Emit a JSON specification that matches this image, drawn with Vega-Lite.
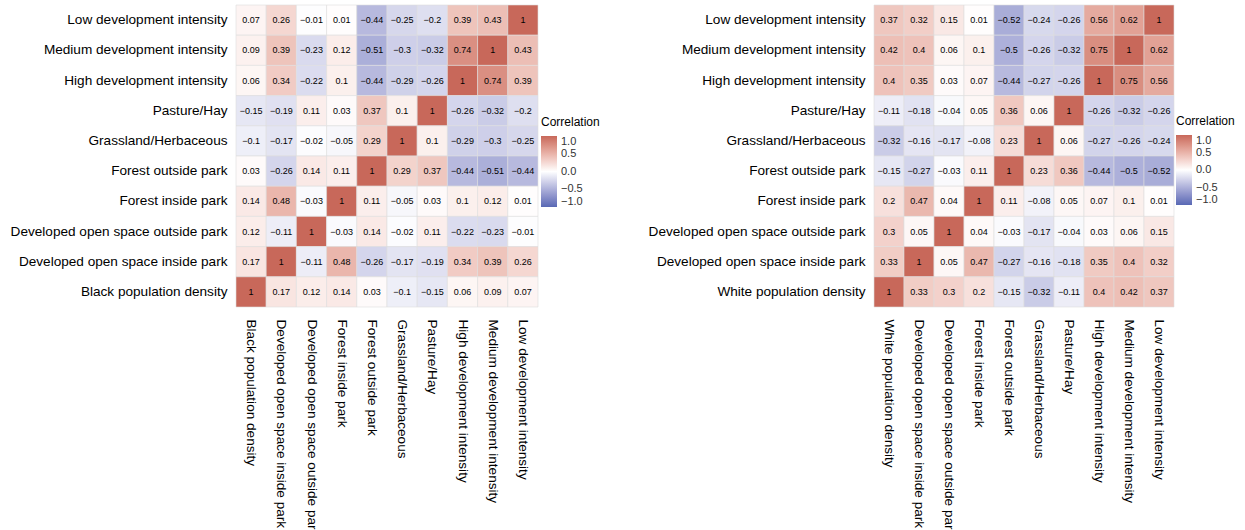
{
  "$schema": "https://vega.github.io/schema/vega-lite/v6.json",
  "padding": {"left": 10, "top": 4, "right": 5, "bottom": 5},
  "spacing": 48,
  "config": {
    "font": "Liberation Sans",
    "view": {"stroke": null},
    "axis": {"domain": false, "ticks": false, "grid": false, "labelFontSize": 13.6, "labelColor": "#000000", "labelFont": "Liberation Sans", "labelLimit": 500},
    "axisY": {"labelPadding": 9},
    "axisX": {"labelAngle": 90, "labelPadding": 12, "labelAlign": "left", "labelBaseline": "middle"},
    "legend": {"titleFontSize": 12, "titleFontWeight": "normal", "titleColor": "#000000", "labelFontSize": 11, "labelColor": "#333333", "titleFont": "Liberation Sans", "labelFont": "Liberation Sans"}
  },
  "resolve": {"scale": {"color": "independent", "x": "independent", "y": "independent"}, "legend": {"color": "independent"}},
  "datasets": {
    "black": [
      {"y": "Low development intensity", "x": "Black population density", "r": 0.07},
      {"y": "Low development intensity", "x": "Developed open space inside park", "r": 0.26},
      {"y": "Low development intensity", "x": "Developed open space outside park", "r": -0.01},
      {"y": "Low development intensity", "x": "Forest inside park", "r": 0.01},
      {"y": "Low development intensity", "x": "Forest outside park", "r": -0.44},
      {"y": "Low development intensity", "x": "Grassland/Herbaceous", "r": -0.25},
      {"y": "Low development intensity", "x": "Pasture/Hay", "r": -0.2},
      {"y": "Low development intensity", "x": "High development intensity", "r": 0.39},
      {"y": "Low development intensity", "x": "Medium development intensity", "r": 0.43},
      {"y": "Low development intensity", "x": "Low development intensity", "r": 1},
      {"y": "Medium development intensity", "x": "Black population density", "r": 0.09},
      {"y": "Medium development intensity", "x": "Developed open space inside park", "r": 0.39},
      {"y": "Medium development intensity", "x": "Developed open space outside park", "r": -0.23},
      {"y": "Medium development intensity", "x": "Forest inside park", "r": 0.12},
      {"y": "Medium development intensity", "x": "Forest outside park", "r": -0.51},
      {"y": "Medium development intensity", "x": "Grassland/Herbaceous", "r": -0.3},
      {"y": "Medium development intensity", "x": "Pasture/Hay", "r": -0.32},
      {"y": "Medium development intensity", "x": "High development intensity", "r": 0.74},
      {"y": "Medium development intensity", "x": "Medium development intensity", "r": 1},
      {"y": "Medium development intensity", "x": "Low development intensity", "r": 0.43},
      {"y": "High development intensity", "x": "Black population density", "r": 0.06},
      {"y": "High development intensity", "x": "Developed open space inside park", "r": 0.34},
      {"y": "High development intensity", "x": "Developed open space outside park", "r": -0.22},
      {"y": "High development intensity", "x": "Forest inside park", "r": 0.1},
      {"y": "High development intensity", "x": "Forest outside park", "r": -0.44},
      {"y": "High development intensity", "x": "Grassland/Herbaceous", "r": -0.29},
      {"y": "High development intensity", "x": "Pasture/Hay", "r": -0.26},
      {"y": "High development intensity", "x": "High development intensity", "r": 1},
      {"y": "High development intensity", "x": "Medium development intensity", "r": 0.74},
      {"y": "High development intensity", "x": "Low development intensity", "r": 0.39},
      {"y": "Pasture/Hay", "x": "Black population density", "r": -0.15},
      {"y": "Pasture/Hay", "x": "Developed open space inside park", "r": -0.19},
      {"y": "Pasture/Hay", "x": "Developed open space outside park", "r": 0.11},
      {"y": "Pasture/Hay", "x": "Forest inside park", "r": 0.03},
      {"y": "Pasture/Hay", "x": "Forest outside park", "r": 0.37},
      {"y": "Pasture/Hay", "x": "Grassland/Herbaceous", "r": 0.1},
      {"y": "Pasture/Hay", "x": "Pasture/Hay", "r": 1},
      {"y": "Pasture/Hay", "x": "High development intensity", "r": -0.26},
      {"y": "Pasture/Hay", "x": "Medium development intensity", "r": -0.32},
      {"y": "Pasture/Hay", "x": "Low development intensity", "r": -0.2},
      {"y": "Grassland/Herbaceous", "x": "Black population density", "r": -0.1},
      {"y": "Grassland/Herbaceous", "x": "Developed open space inside park", "r": -0.17},
      {"y": "Grassland/Herbaceous", "x": "Developed open space outside park", "r": -0.02},
      {"y": "Grassland/Herbaceous", "x": "Forest inside park", "r": -0.05},
      {"y": "Grassland/Herbaceous", "x": "Forest outside park", "r": 0.29},
      {"y": "Grassland/Herbaceous", "x": "Grassland/Herbaceous", "r": 1},
      {"y": "Grassland/Herbaceous", "x": "Pasture/Hay", "r": 0.1},
      {"y": "Grassland/Herbaceous", "x": "High development intensity", "r": -0.29},
      {"y": "Grassland/Herbaceous", "x": "Medium development intensity", "r": -0.3},
      {"y": "Grassland/Herbaceous", "x": "Low development intensity", "r": -0.25},
      {"y": "Forest outside park", "x": "Black population density", "r": 0.03},
      {"y": "Forest outside park", "x": "Developed open space inside park", "r": -0.26},
      {"y": "Forest outside park", "x": "Developed open space outside park", "r": 0.14},
      {"y": "Forest outside park", "x": "Forest inside park", "r": 0.11},
      {"y": "Forest outside park", "x": "Forest outside park", "r": 1},
      {"y": "Forest outside park", "x": "Grassland/Herbaceous", "r": 0.29},
      {"y": "Forest outside park", "x": "Pasture/Hay", "r": 0.37},
      {"y": "Forest outside park", "x": "High development intensity", "r": -0.44},
      {"y": "Forest outside park", "x": "Medium development intensity", "r": -0.51},
      {"y": "Forest outside park", "x": "Low development intensity", "r": -0.44},
      {"y": "Forest inside park", "x": "Black population density", "r": 0.14},
      {"y": "Forest inside park", "x": "Developed open space inside park", "r": 0.48},
      {"y": "Forest inside park", "x": "Developed open space outside park", "r": -0.03},
      {"y": "Forest inside park", "x": "Forest inside park", "r": 1},
      {"y": "Forest inside park", "x": "Forest outside park", "r": 0.11},
      {"y": "Forest inside park", "x": "Grassland/Herbaceous", "r": -0.05},
      {"y": "Forest inside park", "x": "Pasture/Hay", "r": 0.03},
      {"y": "Forest inside park", "x": "High development intensity", "r": 0.1},
      {"y": "Forest inside park", "x": "Medium development intensity", "r": 0.12},
      {"y": "Forest inside park", "x": "Low development intensity", "r": 0.01},
      {"y": "Developed open space outside park", "x": "Black population density", "r": 0.12},
      {"y": "Developed open space outside park", "x": "Developed open space inside park", "r": -0.11},
      {"y": "Developed open space outside park", "x": "Developed open space outside park", "r": 1},
      {"y": "Developed open space outside park", "x": "Forest inside park", "r": -0.03},
      {"y": "Developed open space outside park", "x": "Forest outside park", "r": 0.14},
      {"y": "Developed open space outside park", "x": "Grassland/Herbaceous", "r": -0.02},
      {"y": "Developed open space outside park", "x": "Pasture/Hay", "r": 0.11},
      {"y": "Developed open space outside park", "x": "High development intensity", "r": -0.22},
      {"y": "Developed open space outside park", "x": "Medium development intensity", "r": -0.23},
      {"y": "Developed open space outside park", "x": "Low development intensity", "r": -0.01},
      {"y": "Developed open space inside park", "x": "Black population density", "r": 0.17},
      {"y": "Developed open space inside park", "x": "Developed open space inside park", "r": 1},
      {"y": "Developed open space inside park", "x": "Developed open space outside park", "r": -0.11},
      {"y": "Developed open space inside park", "x": "Forest inside park", "r": 0.48},
      {"y": "Developed open space inside park", "x": "Forest outside park", "r": -0.26},
      {"y": "Developed open space inside park", "x": "Grassland/Herbaceous", "r": -0.17},
      {"y": "Developed open space inside park", "x": "Pasture/Hay", "r": -0.19},
      {"y": "Developed open space inside park", "x": "High development intensity", "r": 0.34},
      {"y": "Developed open space inside park", "x": "Medium development intensity", "r": 0.39},
      {"y": "Developed open space inside park", "x": "Low development intensity", "r": 0.26},
      {"y": "Black population density", "x": "Black population density", "r": 1},
      {"y": "Black population density", "x": "Developed open space inside park", "r": 0.17},
      {"y": "Black population density", "x": "Developed open space outside park", "r": 0.12},
      {"y": "Black population density", "x": "Forest inside park", "r": 0.14},
      {"y": "Black population density", "x": "Forest outside park", "r": 0.03},
      {"y": "Black population density", "x": "Grassland/Herbaceous", "r": -0.1},
      {"y": "Black population density", "x": "Pasture/Hay", "r": -0.15},
      {"y": "Black population density", "x": "High development intensity", "r": 0.06},
      {"y": "Black population density", "x": "Medium development intensity", "r": 0.09},
      {"y": "Black population density", "x": "Low development intensity", "r": 0.07}
    ],
    "white": [
      {"y": "Low development intensity", "x": "White population density", "r": 0.37},
      {"y": "Low development intensity", "x": "Developed open space inside park", "r": 0.32},
      {"y": "Low development intensity", "x": "Developed open space outside park", "r": 0.15},
      {"y": "Low development intensity", "x": "Forest inside park", "r": 0.01},
      {"y": "Low development intensity", "x": "Forest outside park", "r": -0.52},
      {"y": "Low development intensity", "x": "Grassland/Herbaceous", "r": -0.24},
      {"y": "Low development intensity", "x": "Pasture/Hay", "r": -0.26},
      {"y": "Low development intensity", "x": "High development intensity", "r": 0.56},
      {"y": "Low development intensity", "x": "Medium development intensity", "r": 0.62},
      {"y": "Low development intensity", "x": "Low development intensity", "r": 1},
      {"y": "Medium development intensity", "x": "White population density", "r": 0.42},
      {"y": "Medium development intensity", "x": "Developed open space inside park", "r": 0.4},
      {"y": "Medium development intensity", "x": "Developed open space outside park", "r": 0.06},
      {"y": "Medium development intensity", "x": "Forest inside park", "r": 0.1},
      {"y": "Medium development intensity", "x": "Forest outside park", "r": -0.5},
      {"y": "Medium development intensity", "x": "Grassland/Herbaceous", "r": -0.26},
      {"y": "Medium development intensity", "x": "Pasture/Hay", "r": -0.32},
      {"y": "Medium development intensity", "x": "High development intensity", "r": 0.75},
      {"y": "Medium development intensity", "x": "Medium development intensity", "r": 1},
      {"y": "Medium development intensity", "x": "Low development intensity", "r": 0.62},
      {"y": "High development intensity", "x": "White population density", "r": 0.4},
      {"y": "High development intensity", "x": "Developed open space inside park", "r": 0.35},
      {"y": "High development intensity", "x": "Developed open space outside park", "r": 0.03},
      {"y": "High development intensity", "x": "Forest inside park", "r": 0.07},
      {"y": "High development intensity", "x": "Forest outside park", "r": -0.44},
      {"y": "High development intensity", "x": "Grassland/Herbaceous", "r": -0.27},
      {"y": "High development intensity", "x": "Pasture/Hay", "r": -0.26},
      {"y": "High development intensity", "x": "High development intensity", "r": 1},
      {"y": "High development intensity", "x": "Medium development intensity", "r": 0.75},
      {"y": "High development intensity", "x": "Low development intensity", "r": 0.56},
      {"y": "Pasture/Hay", "x": "White population density", "r": -0.11},
      {"y": "Pasture/Hay", "x": "Developed open space inside park", "r": -0.18},
      {"y": "Pasture/Hay", "x": "Developed open space outside park", "r": -0.04},
      {"y": "Pasture/Hay", "x": "Forest inside park", "r": 0.05},
      {"y": "Pasture/Hay", "x": "Forest outside park", "r": 0.36},
      {"y": "Pasture/Hay", "x": "Grassland/Herbaceous", "r": 0.06},
      {"y": "Pasture/Hay", "x": "Pasture/Hay", "r": 1},
      {"y": "Pasture/Hay", "x": "High development intensity", "r": -0.26},
      {"y": "Pasture/Hay", "x": "Medium development intensity", "r": -0.32},
      {"y": "Pasture/Hay", "x": "Low development intensity", "r": -0.26},
      {"y": "Grassland/Herbaceous", "x": "White population density", "r": -0.32},
      {"y": "Grassland/Herbaceous", "x": "Developed open space inside park", "r": -0.16},
      {"y": "Grassland/Herbaceous", "x": "Developed open space outside park", "r": -0.17},
      {"y": "Grassland/Herbaceous", "x": "Forest inside park", "r": -0.08},
      {"y": "Grassland/Herbaceous", "x": "Forest outside park", "r": 0.23},
      {"y": "Grassland/Herbaceous", "x": "Grassland/Herbaceous", "r": 1},
      {"y": "Grassland/Herbaceous", "x": "Pasture/Hay", "r": 0.06},
      {"y": "Grassland/Herbaceous", "x": "High development intensity", "r": -0.27},
      {"y": "Grassland/Herbaceous", "x": "Medium development intensity", "r": -0.26},
      {"y": "Grassland/Herbaceous", "x": "Low development intensity", "r": -0.24},
      {"y": "Forest outside park", "x": "White population density", "r": -0.15},
      {"y": "Forest outside park", "x": "Developed open space inside park", "r": -0.27},
      {"y": "Forest outside park", "x": "Developed open space outside park", "r": -0.03},
      {"y": "Forest outside park", "x": "Forest inside park", "r": 0.11},
      {"y": "Forest outside park", "x": "Forest outside park", "r": 1},
      {"y": "Forest outside park", "x": "Grassland/Herbaceous", "r": 0.23},
      {"y": "Forest outside park", "x": "Pasture/Hay", "r": 0.36},
      {"y": "Forest outside park", "x": "High development intensity", "r": -0.44},
      {"y": "Forest outside park", "x": "Medium development intensity", "r": -0.5},
      {"y": "Forest outside park", "x": "Low development intensity", "r": -0.52},
      {"y": "Forest inside park", "x": "White population density", "r": 0.2},
      {"y": "Forest inside park", "x": "Developed open space inside park", "r": 0.47},
      {"y": "Forest inside park", "x": "Developed open space outside park", "r": 0.04},
      {"y": "Forest inside park", "x": "Forest inside park", "r": 1},
      {"y": "Forest inside park", "x": "Forest outside park", "r": 0.11},
      {"y": "Forest inside park", "x": "Grassland/Herbaceous", "r": -0.08},
      {"y": "Forest inside park", "x": "Pasture/Hay", "r": 0.05},
      {"y": "Forest inside park", "x": "High development intensity", "r": 0.07},
      {"y": "Forest inside park", "x": "Medium development intensity", "r": 0.1},
      {"y": "Forest inside park", "x": "Low development intensity", "r": 0.01},
      {"y": "Developed open space outside park", "x": "White population density", "r": 0.3},
      {"y": "Developed open space outside park", "x": "Developed open space inside park", "r": 0.05},
      {"y": "Developed open space outside park", "x": "Developed open space outside park", "r": 1},
      {"y": "Developed open space outside park", "x": "Forest inside park", "r": 0.04},
      {"y": "Developed open space outside park", "x": "Forest outside park", "r": -0.03},
      {"y": "Developed open space outside park", "x": "Grassland/Herbaceous", "r": -0.17},
      {"y": "Developed open space outside park", "x": "Pasture/Hay", "r": -0.04},
      {"y": "Developed open space outside park", "x": "High development intensity", "r": 0.03},
      {"y": "Developed open space outside park", "x": "Medium development intensity", "r": 0.06},
      {"y": "Developed open space outside park", "x": "Low development intensity", "r": 0.15},
      {"y": "Developed open space inside park", "x": "White population density", "r": 0.33},
      {"y": "Developed open space inside park", "x": "Developed open space inside park", "r": 1},
      {"y": "Developed open space inside park", "x": "Developed open space outside park", "r": 0.05},
      {"y": "Developed open space inside park", "x": "Forest inside park", "r": 0.47},
      {"y": "Developed open space inside park", "x": "Forest outside park", "r": -0.27},
      {"y": "Developed open space inside park", "x": "Grassland/Herbaceous", "r": -0.16},
      {"y": "Developed open space inside park", "x": "Pasture/Hay", "r": -0.18},
      {"y": "Developed open space inside park", "x": "High development intensity", "r": 0.35},
      {"y": "Developed open space inside park", "x": "Medium development intensity", "r": 0.4},
      {"y": "Developed open space inside park", "x": "Low development intensity", "r": 0.32},
      {"y": "White population density", "x": "White population density", "r": 1},
      {"y": "White population density", "x": "Developed open space inside park", "r": 0.33},
      {"y": "White population density", "x": "Developed open space outside park", "r": 0.3},
      {"y": "White population density", "x": "Forest inside park", "r": 0.2},
      {"y": "White population density", "x": "Forest outside park", "r": -0.15},
      {"y": "White population density", "x": "Grassland/Herbaceous", "r": -0.32},
      {"y": "White population density", "x": "Pasture/Hay", "r": -0.11},
      {"y": "White population density", "x": "High development intensity", "r": 0.4},
      {"y": "White population density", "x": "Medium development intensity", "r": 0.42},
      {"y": "White population density", "x": "Low development intensity", "r": 0.37}
    ]
  },
  "hconcat": [
    {
      "width": 302,
      "height": 302,
      "data": {"name": "black"},
      "encoding": {
        "x": {"field": "x", "type": "nominal", "title": null, "sort": ["Black population density", "Developed open space inside park", "Developed open space outside park", "Forest inside park", "Forest outside park", "Grassland/Herbaceous", "Pasture/Hay", "High development intensity", "Medium development intensity", "Low development intensity"]},
        "y": {"field": "y", "type": "nominal", "title": null, "sort": ["Low development intensity", "Medium development intensity", "High development intensity", "Pasture/Hay", "Grassland/Herbaceous", "Forest outside park", "Forest inside park", "Developed open space outside park", "Developed open space inside park", "Black population density"]}
      },
      "layer": [
        {
          "mark": {"type": "rect", "stroke": "#dddddd", "strokeWidth": 0.6},
          "encoding": {
            "color": {
              "field": "r", "type": "quantitative",
              "scale": {"domain": [-1, 0, 1], "range": ["#5868b4", "#ffffff", "#c8685a"], "interpolate": "lab"},
              "legend": {"title": "Correlation", "orient": "none", "legendX": 305, "legendY": 112, "direction": "vertical", "gradientLength": 71, "gradientThickness": 16, "values": [1, 0.5, 0, -0.5, -1], "format": ".1f", "titlePadding": 7, "padding": 0, "labelOffset": 4, "gradientStrokeWidth": 0, "tickCount": 5, "labelOverlap": false}
            }
          }
        },
        {
          "mark": {"type": "text", "fontSize": 9, "color": "#000000", "font": "Liberation Sans"},
          "encoding": {"text": {"field": "r", "type": "quantitative", "format": ".2~f"}}
        }
      ]
    },
    {
      "width": 300,
      "height": 302,
      "data": {"name": "white"},
      "encoding": {
        "x": {"field": "x", "type": "nominal", "title": null, "sort": ["White population density", "Developed open space inside park", "Developed open space outside park", "Forest inside park", "Forest outside park", "Grassland/Herbaceous", "Pasture/Hay", "High development intensity", "Medium development intensity", "Low development intensity"]},
        "y": {"field": "y", "type": "nominal", "title": null, "sort": ["Low development intensity", "Medium development intensity", "High development intensity", "Pasture/Hay", "Grassland/Herbaceous", "Forest outside park", "Forest inside park", "Developed open space outside park", "Developed open space inside park", "White population density"]}
      },
      "layer": [
        {
          "mark": {"type": "rect", "stroke": "#dddddd", "strokeWidth": 0.6},
          "encoding": {
            "color": {
              "field": "r", "type": "quantitative",
              "scale": {"domain": [-1, 0, 1], "range": ["#5868b4", "#ffffff", "#c8685a"], "interpolate": "lab"},
              "legend": {"title": "Correlation", "orient": "none", "legendX": 302, "legendY": 111, "direction": "vertical", "gradientLength": 70, "gradientThickness": 16, "values": [1, 0.5, 0, -0.5, -1], "format": ".1f", "titlePadding": 7, "padding": 0, "labelOffset": 4, "gradientStrokeWidth": 0, "tickCount": 5, "labelOverlap": false}
            }
          }
        },
        {
          "mark": {"type": "text", "fontSize": 9, "color": "#000000", "font": "Liberation Sans"},
          "encoding": {"text": {"field": "r", "type": "quantitative", "format": ".2~f"}}
        }
      ]
    }
  ]
}
